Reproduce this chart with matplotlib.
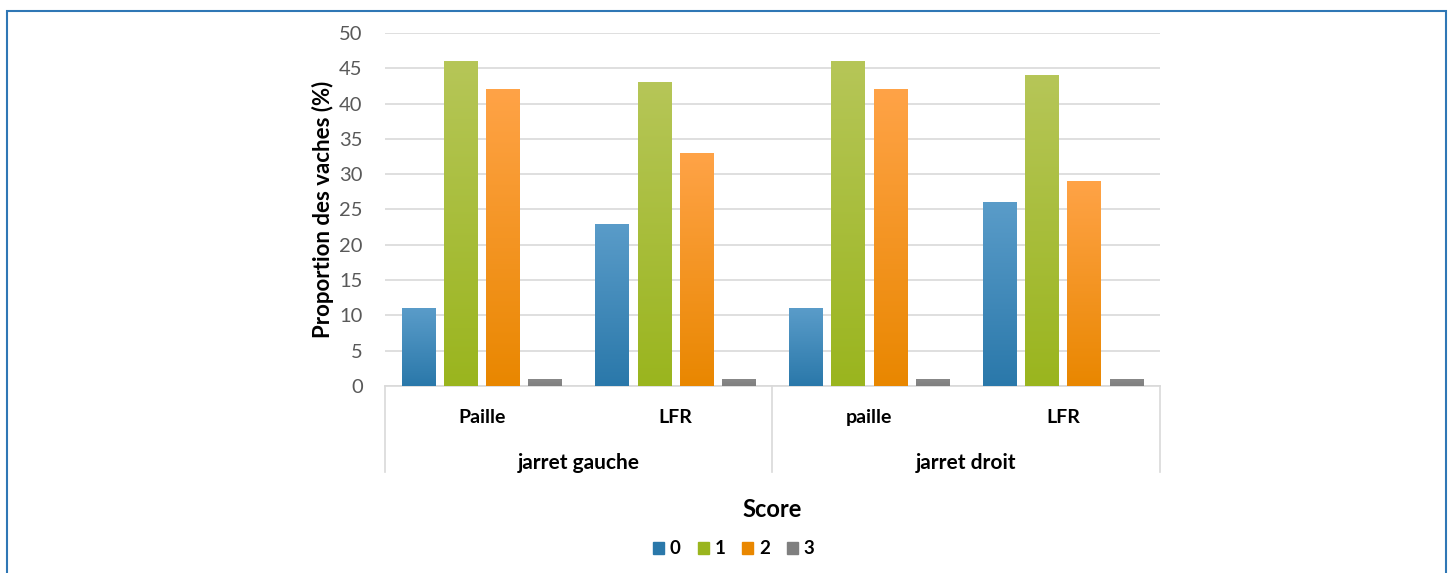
import numpy as np
import matplotlib
matplotlib.use("Agg")
import matplotlib.pyplot as plt
from matplotlib.patches import Rectangle
from matplotlib.colors import LinearSegmentedColormap

plt.rcParams['font.family'] = ['Lato', 'DejaVu Sans']

# Data
groups = ["jarret gauche", "jarret droit"]
litters = ["Paille", "LFR", "paille", "LFR"]
scores = ["0", "1", "2", "3"]
score0 = [11, 23, 11, 26]
score1 = [46, 43, 46, 44]
score2 = [42, 33, 42, 29]
score3 = [1, 1, 1, 1]
series = [score0, score1, score2, score3]

# top / bottom gradient colours per score
grad = [("#5a9cc9", "#2a78aa"),
        ("#b6c658", "#9ab51e"),
        ("#ffa347", "#e98700"),
        ("#8a8a8a", "#7f7f7f")]

fig = plt.figure(figsize=(14.5, 5.73), dpi=100)
ax = fig.add_axes([0.2655, 0.3264, 0.5345, 0.616])

n = len(litters)
x = np.arange(n) + 0.5
step = 0.218
width = 0.175
offsets = (np.arange(4) - 1.5) * step

grad_img = np.linspace(0, 1, 256).reshape(-1, 1)
for s, vals in enumerate(series):
    top, bottom = grad[s]
    cmap = LinearSegmentedColormap.from_list(f"g{s}", [bottom, top])
    bars = ax.bar(x + offsets[s], vals, width, color=bottom, label=scores[s], zorder=3, linewidth=0)
    for b in bars:
        x0, y0 = b.get_x(), b.get_y()
        w, h = b.get_width(), b.get_height()
        im = ax.imshow(grad_img, cmap=cmap, aspect="auto",
                       extent=(x0, x0 + w, y0, y0 + h), origin="lower",
                       vmin=0, vmax=1, zorder=4)
        im.set_clip_path(b)

ax.set_xlim(0, n)
ax.set_ylim(0, 50)
ax.set_yticks(np.arange(0, 51, 5))
ax.yaxis.grid(True, color="#d9d9d9", linewidth=1.2, zorder=0)
ax.set_axisbelow(True)
for sp in ["top", "right", "left"]:
    ax.spines[sp].set_visible(False)
ax.spines["bottom"].set_color("#d9d9d9")
ax.spines["bottom"].set_linewidth(1.2)
ax.tick_params(axis="y", length=0, labelsize=14.5, labelcolor="#595959", pad=16)
ax.tick_params(axis="x", length=0, labelbottom=False)

ax.set_ylabel("Proportion des vaches (%)", fontsize=16, fontweight="bold",
              color="black", labelpad=4)

# multi-level category axis
xt = ax.get_xaxis_transform()
for xv in [0, 2, 4]:
    ax.plot([xv, xv], [0, -0.244], transform=xt, color="#d9d9d9",
            linewidth=1.2, clip_on=False)
for xi, name in zip(x, litters):
    ax.text(xi, -0.09, name, transform=xt, ha="center", va="center",
            fontsize=14, fontweight="bold")
for gi, name in enumerate(groups):
    ax.text(2 * gi + 1, -0.218, name, transform=xt, ha="center", va="center",
            fontsize=15, fontweight="bold")

fig.text(0.5325, 0.110, "Score", ha="center", va="center", fontsize=17, fontweight="bold")

handles = [Rectangle((0, 0), 1, 1, color=grad[s][1]) for s in range(4)]
fig.legend(handles, scores, loc="center", bbox_to_anchor=(0.506, 0.042), ncol=4,
           frameon=False, handlelength=0.6, handleheight=0.6, handletextpad=0.3,
           columnspacing=0.9, prop={"weight": "bold", "size": 13.5})

# outer frame
fig.patches.append(Rectangle((7 / 1450, -0.05), 1439 / 1450, 1.05 - 11 / 573,
                             transform=fig.transFigure, fill=False,
                             edgecolor="#2f77b5", linewidth=1.5))

fig.savefig("out.png", dpi=100)
